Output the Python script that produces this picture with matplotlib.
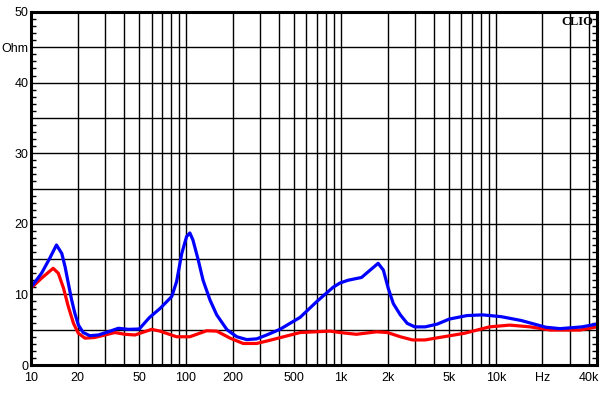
import matplotlib
matplotlib.use("Agg")
import matplotlib.pyplot as plt
from matplotlib.ticker import FixedLocator, MultipleLocator, NullFormatter

# --- data ---
blue_f = [10, 11.7, 13.2, 14.6, 15.8, 16.6, 17.4, 18.3, 19.2, 20.2, 21.7, 24, 27.2,
          31.5, 36.6, 42.5, 50, 58, 68, 81, 87, 94, 101, 106, 111, 120, 129, 143, 158,
          184, 213, 247, 286, 332, 404, 546, 700, 890, 984, 1110, 1360, 1500, 1740,
          1880, 2020, 2180, 2420, 2680, 3000, 3500, 4200, 5000, 6500, 8200, 10800,
          14600, 21000, 26000, 36000, 45000]
blue_z = [11.0, 13.0, 15.1, 17.0, 15.8, 13.9, 11.6, 9.2, 7.3, 5.7, 4.6, 4.15, 4.25,
          4.7, 5.2, 5.05, 5.1, 6.7, 8.0, 9.7, 11.8, 15.8, 18.2, 18.7, 17.7, 14.9,
          12.0, 9.2, 7.1, 5.0, 4.0, 3.6, 3.7, 4.25, 5.05, 6.75, 9.0, 11.0, 11.6,
          12.0, 12.4, 13.2, 14.4, 13.45, 10.9, 8.7, 7.1, 5.9, 5.4, 5.4, 5.8, 6.5,
          7.0, 7.1, 6.85, 6.3, 5.35, 5.15, 5.4, 5.8]
red_f = [10, 11.7, 13.9, 15, 16.2, 17.4, 18.8, 20.2, 22.3, 25.8, 30, 34.8, 40.4, 46.9,
         60, 68, 87, 106, 136, 158, 193, 234, 286, 348, 546, 850, 984, 1260, 1700,
         2000, 2420, 2900, 3500, 4200, 6300, 9100, 12300, 16700, 22500, 35000, 45000]
red_z = [10.9, 12.3, 13.7, 13.0, 10.9, 8.3, 5.9, 4.5, 3.8, 3.9, 4.25, 4.6, 4.35, 4.25,
         5.05, 4.8, 4.0, 4.0, 4.85, 4.8, 3.8, 3.05, 3.05, 3.5, 4.6, 4.8, 4.6, 4.35,
         4.7, 4.6, 4.0, 3.55, 3.55, 3.85, 4.5, 5.4, 5.65, 5.4, 4.95, 4.95, 5.4]

x_ticks = [10, 20, 50, 100, 200, 500, 1000, 2000, 5000, 10000, 20000, 40000]
x_labels = ["10", "20", "50", "100", "200", "500", "1k", "2k", "5k", "10k", "Hz", "40k"]
x_grid = [20, 30, 40, 50, 60, 70, 80, 90, 100, 200, 300, 400, 500, 600, 700, 800, 900,
          1000, 2000, 3000, 4000, 5000, 6000, 7000, 8000, 9000, 10000, 20000, 30000, 40000]
y_ticks = [0, 5, 10, 15, 20, 25, 30, 35, 40, 45, 50]
y_labels = ["0", "", "10", "", "20", "", "30", "", "40", "Ohm", "50"]

plt.rcParams['font.family'] = ['Liberation Sans', 'DejaVu Sans']
fig = plt.figure(figsize=(6.06, 3.95), dpi=100)
ax = fig.add_axes([31/606, 30/395, 566/606, 353/395])
ax.set_xscale('log')
ax.set_xlim(10, 45000)
ax.set_ylim(0, 50)

for xv in x_grid:
    ax.axvline(xv, color='black', lw=1.0, zorder=1)
for yv in y_ticks[1:-1]:
    ax.axhline(yv, color='black', lw=1.0, zorder=1)

ax.plot(red_f, red_z, color='#ff0000', lw=2.3, zorder=3, solid_joinstyle='round')
ax.plot(blue_f, blue_z, color='#0000ff', lw=2.3, zorder=4, solid_joinstyle='round')

ax.xaxis.set_major_locator(FixedLocator(x_ticks))
ax.set_xticklabels(x_labels)
ax.xaxis.set_minor_locator(FixedLocator([]))
ax.xaxis.set_minor_formatter(NullFormatter())
ax.tick_params(axis='x', which='major', length=0, pad=5, labelsize=9)

ax.set_yticks(y_ticks)
ax.set_yticklabels(y_labels)
ax.yaxis.set_minor_locator(MultipleLocator(1))
ax.tick_params(axis='y', which='major', length=0, pad=2, labelsize=9)
ax.tick_params(axis='y', which='minor', direction='in', length=3.5, width=1,
               left=True, right=True)

for s in ax.spines.values():
    s.set_linewidth(2.2)
    s.set_color('black')
    s.set_zorder(5)

ax.text(0.993, 0.99, "CLIO", transform=ax.transAxes, ha='right', va='top',
        fontsize=9, fontweight='bold', family=['Liberation Serif', 'DejaVu Serif'], zorder=6)

fig.savefig("out.png", dpi=100)
